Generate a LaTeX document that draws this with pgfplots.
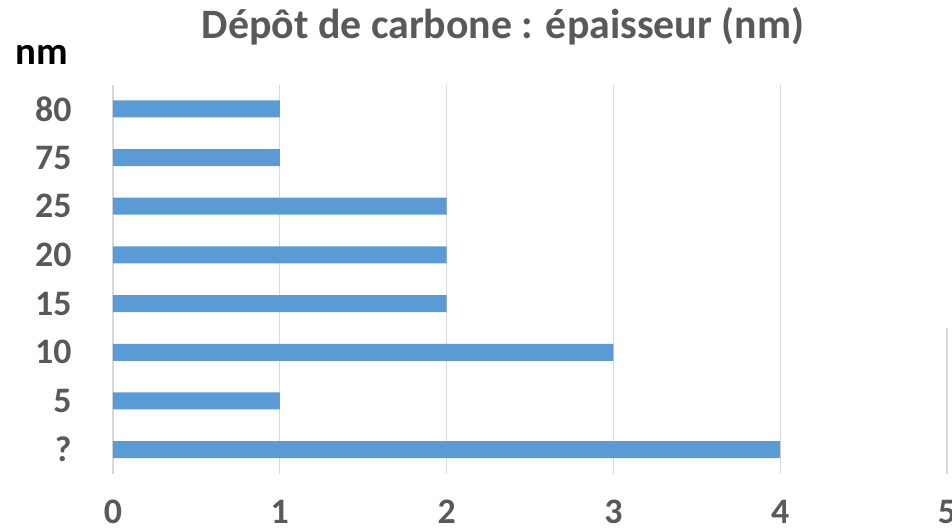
\documentclass[border=0pt]{standalone}
\usepackage{fontspec}
\setmainfont{Carlito}
\usepackage{pgfplots}
\pgfplotsset{compat=1.18}
\definecolor{barblue}{HTML}{5B9BD5}
\definecolor{gridgray}{HTML}{D9D9D9}
\definecolor{txtgray}{HTML}{595959}
\begin{document}
\begin{tikzpicture}
\begin{axis}[
  at={(0,0)}, anchor=south west,
  scale only axis, width=834bp, height=389.5bp,
  xmin=0, xmax=5, ymin=-0.5, ymax=7.5,
  xbar, bar width=17bp,
  axis line style={draw=none}, tick style={draw=none},
  xmajorgrids, grid style={gridgray, line width=1.3bp},
  clip=false,
  xtick={0,1,2,3,4,5}, xticklabels={0,1,2,3,4,5},
  ytick={0,1,2,3,4,5,6,7}, yticklabels={?,5,10,15,20,25,75,80},
  /pgf/number format/assume math mode=true,
  ticklabel style={font=\bfseries\fontsize{36}{42}\selectfont, text=txtgray, inner sep=0pt},
  yticklabel style={anchor=east, xshift=-37bp},
  xticklabel style={anchor=north, yshift=-26bp},
]
\addplot[fill=barblue, draw=none] coordinates {(4,0) (1,1) (3,2) (2,3) (2,4) (2,5) (1,6) (1,7)};
\draw[white, line width=3bp] (axis cs:5,2.49) -- (axis cs:5,7.6);
\end{axis}
\node[anchor=base, font=\bfseries\fontsize{42}{48}\selectfont, text=txtgray] at (390bp,435bp) {Dépôt de carbone : épaisseur (nm)};
\node[anchor=base, font=\bfseries\fontsize{39}{46}\selectfont, text=black] at (-71.5bp,409bp) {nm};
\pgfresetboundingbox
\path (-113bp,-56bp) rectangle (839bp,474bp);
\end{tikzpicture}
\end{document}
